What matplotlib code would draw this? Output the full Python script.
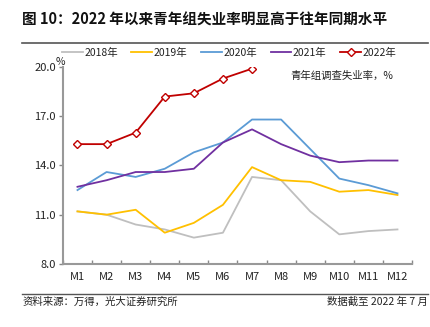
import matplotlib
matplotlib.use("Agg")
import matplotlib.pyplot as plt
from matplotlib.lines import Line2D

plt.rcParams['font.family'] = ['Noto Sans CJK SC', 'DejaVu Sans']

months = ["M1", "M2", "M3", "M4", "M5", "M6", "M7", "M8", "M9", "M10", "M11", "M12"]
y2018 = [11.2, 11.0, 10.4, 10.1, 9.6, 9.9, 13.3, 13.1, 11.2, 9.8, 10.0, 10.1]
y2019 = [11.2, 11.0, 11.3, 9.9, 10.5, 11.6, 13.9, 13.1, 13.0, 12.4, 12.5, 12.2]
y2020 = [12.5, 13.6, 13.3, 13.8, 14.8, 15.4, 16.8, 16.8, 15.0, 13.2, 12.8, 12.3]
y2021 = [12.7, 13.1, 13.6, 13.6, 13.8, 15.4, 16.2, 15.3, 14.6, 14.2, 14.3, 14.3]
y2022 = [15.3, 15.3, 16.0, 18.2, 18.4, 19.3, 19.9]
series_labels = ["2018年", "2019年", "2020年", "2021年", "2022年"]
yticks = [8.0, 11.0, 14.0, 17.0, 20.0]

colors = ["#BFBFBF", "#FFC000", "#5B9BD5", "#7030A0", "#C00000"]

fig = plt.figure(figsize=(4.31, 3.27), dpi=100)
ax = fig.add_axes([0.146, 0.193, 0.81, 0.602])

x = list(range(1, 13))
for data, c, lab in zip([y2018, y2019, y2020, y2021], colors[:4], series_labels[:4]):
    ax.plot(x[:len(data)], data, color=c, lw=1.3, label=lab)
ax.plot(x[:len(y2022)], y2022, color=colors[4], lw=1.3, marker='D', markersize=3.6,
        markerfacecolor='white', markeredgecolor=colors[4], markeredgewidth=1.0, label=series_labels[4])

ax.set_xlim(0.5, 12.5)
ax.set_ylim(8, 20)
ax.set_yticks(yticks)
ax.set_yticklabels([f"{v:.1f}" for v in yticks], fontsize=8, color='#222222')
ax.set_xticks(x)
ax.set_xticklabels(months, fontsize=8, color='#222222')
ax.set_xticks([i + 0.5 for i in range(0, 13)], minor=True)
ax.tick_params(axis='x', which='major', length=0, pad=6)
ax.tick_params(axis='x', which='minor', direction='in', length=3, color='#888888', width=1)
ax.tick_params(axis='y', direction='out', length=3, color='#888888', width=1, pad=2)
for s in ['top', 'right']:
    ax.spines[s].set_visible(False)
for s in ['left', 'bottom']:
    ax.spines[s].set_color('#999999')
    ax.spines[s].set_linewidth(1.5)

leg = ax.legend(loc='center', bbox_to_anchor=(0.476, 1.071), ncol=5, frameon=False, fontsize=7.5,
                handlelength=2.0, columnspacing=1.3, handletextpad=0.15, borderaxespad=0.0,
                borderpad=0.0)
for t in leg.get_texts():
    t.set_color('#222222')

fig.text(0.052, 0.939, "图 10：2022 年以来青年组失业率明显高于往年同期水平", fontsize=10.5,
         fontweight='bold', ha='left', va='center', color='#111111')
fig.add_artist(Line2D([0.051, 0.993], [0.869, 0.869], color='#555555', lw=1.2))
fig.text(0.128, 0.81, "%", fontsize=7.5, ha='left', va='center', color='#222222')
fig.text(0.912, 0.768, "青年组调查失业率，%", fontsize=7.5, ha='right', va='center', color='#222222')
fig.add_artist(Line2D([0.051, 0.993], [0.101, 0.101], color='#555555', lw=1.0))
fig.text(0.052, 0.078, "资料来源：万得，光大证券研究所", fontsize=7.5, ha='left', va='center', color='#222222')
fig.text(0.993, 0.078, "数据截至 2022 年 7 月", fontsize=7.5, ha='right', va='center', color='#222222')

fig.savefig("out.png", dpi=100)
